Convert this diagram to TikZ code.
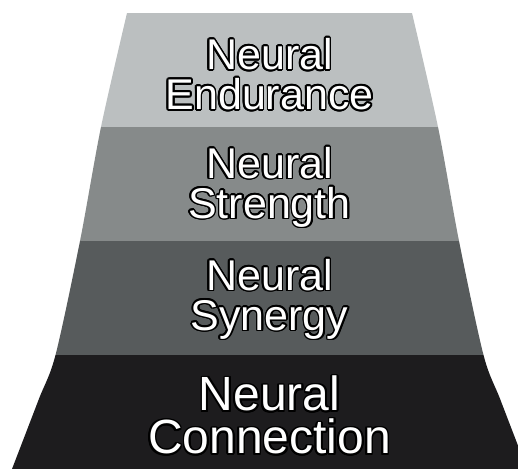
\documentclass[tikz,border=0pt]{standalone}
\usepackage{fontspec}
\usepackage{xcolor}
\usepackage{contour}
\newfontfamily\tierfont{Liberation Sans}
\contourlength{1.7pt}
\definecolor{tierA}{HTML}{BBBFC0}
\definecolor{tierB}{HTML}{868A8A}
\definecolor{tierC}{HTML}{575B5C}
\definecolor{tierD}{HTML}{1D1C1E}

\begin{document}
\begin{tikzpicture}[x=1pt, y=-1pt,
    tiertext/.style={text=white, align=center, font=\tierfont\fontsize{43}{40}\selectfont},
    basetext/.style={tiertext, font=\tierfont\fontsize{48}{43}\selectfont}]
    \useasboundingbox (0,0) rectangle (518,469);
    % Pyramid outline
    \begin{scope}
    \clip (127,13) -- (412,13)
        -- plot[smooth] coordinates {(412,13) (438,127) (459,241) (483.5,355) (500.5,400) (527,469)}
        -- plot[smooth] coordinates {(12,469) (38.5,400) (55.5,355) (80,241) (101,127) (127,13)}
        -- cycle;
    % Tiers
    \fill[tierA] (0,0) rectangle (518,127);
    \fill[tierB] (0,127) rectangle (518,241);
    \fill[tierC] (0,241) rectangle (518,355);
    \fill[tierD] (0,355) rectangle (518,469);
    \end{scope}
    % Labels
    \node[tiertext] (endurance) at (269.5,75) {\contour{black}{Neural}\\\contour{black}{Endurance}};
    \node[tiertext] (strength) at (269.5,188) {\contour{black}{Neural}\\\contour{black}{Strength}};
    \node[tiertext] (synergy) at (269.5,300) {\contour{black}{Neural}\\\contour{black}{Synergy}};
    \node[basetext] (connection) at (269.5,416) {\contour{black}{Neural}\\\contour{black}{Connection}};
\end{tikzpicture}
\end{document}
